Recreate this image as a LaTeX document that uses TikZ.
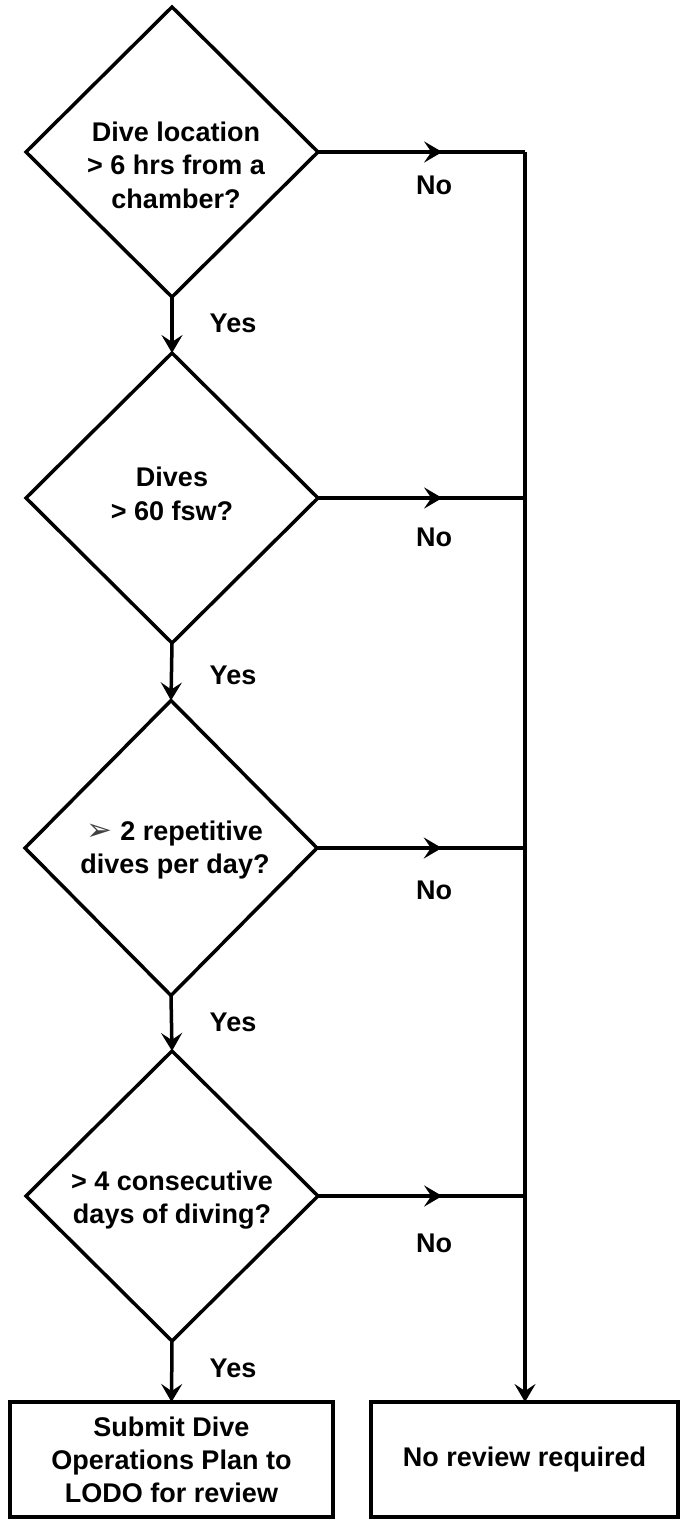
\documentclass[tikz,border=0pt]{standalone}
\usepackage{fontspec}
\setmainfont{Liberation Sans}
\newfontfamily\symfont{DejaVu Sans}
\usetikzlibrary{shapes.geometric,arrows.meta,decorations.markings}
\begin{document}
\begin{tikzpicture}[x=1pt,y=-1pt, line width=3.5pt,
  dec/.style={diamond, draw, minimum width=292pt, minimum height=#1, inner sep=0pt, outer sep=0pt},
  dec/.default=290pt,
  txt/.style={font=\bfseries\fontsize{27}{33.5}\selectfont, align=center, inner sep=0pt},
  box/.style={draw, rectangle, inner sep=0pt, outer sep=0pt, minimum height=115pt, font=\bfseries\fontsize{27}{33}\selectfont, align=center},
  tip/.style={-{Stealth[length=18pt,width=21pt,inset=7pt]}},
  midarrow/.style={postaction={decorate}, decoration={markings, mark=at position #1 with {\arrow{Stealth[length=18pt,width=21pt,inset=7pt]}}}}
]
\useasboundingbox (0,0) rectangle (686,1522);

% decisions
\node[dec] (d1) at (172,152) {};
\node[dec] (d2) at (172,498) {};
\node[dec=295pt] (d3) at (171,848) {};
\node[dec] (d4) at (172,1196) {};

\node[txt] (t1) at (176,165) {Dive location\\> 6 hrs from a\\chamber?};
\node[txt] (t2) at (172,494) {Dives\\> 60 fsw?};
\node[txt] (t3) at (175,850) {{\mdseries\symfont\fontsize{31}{33}\selectfont\color{black!75}➢} 2 repetitive\\dives per day?};
\node[txt] (t4) at (172,1200) {> 4 consecutive\\days of diving?};

% outcome boxes
\node[box, minimum width=323pt] (b1) at (171.5,1459.5) {Submit Dive\\Operations Plan to\\LODO for review};
\node[box, minimum width=307pt] (b2) at (524.5,1459.5) {No review required};

% junctions on the right line
\coordinate (j1) at (525,152);
\coordinate (j2) at (525,498);
\coordinate (j3) at (525,848);
\coordinate (j4) at (525,1196);

% No branches
\draw[midarrow=0.6] (d1.east) -- (j1);
\draw[midarrow=0.6] (d2.east) -- (j2);
\draw[midarrow=0.6] (d3.east) -- (j3);
\draw[midarrow=0.6] (d4.east) -- (j4);
\draw[tip] (j1) -- (j1 |- b2.north);

% Yes branches
\draw[tip] (d1.south) -- (d2.north);
\draw[tip] (d2.south) -- (d3.north);
\draw[tip] (d3.south) -- (d4.north);
\draw[tip] (d4.south) -- (b1.north);

% labels
\node[txt] (n1) at (434,185) {No};
\node[txt] (n2) at (434,537) {No};
\node[txt] (n3) at (434,890) {No};
\node[txt] (n4) at (434,1243) {No};
\node[txt] (y1) at (233,323) {Yes};
\node[txt] (y2) at (233,675) {Yes};
\node[txt] (y3) at (233,1022) {Yes};
\node[txt] (y4) at (233,1368) {Yes};
\end{tikzpicture}
\end{document}
